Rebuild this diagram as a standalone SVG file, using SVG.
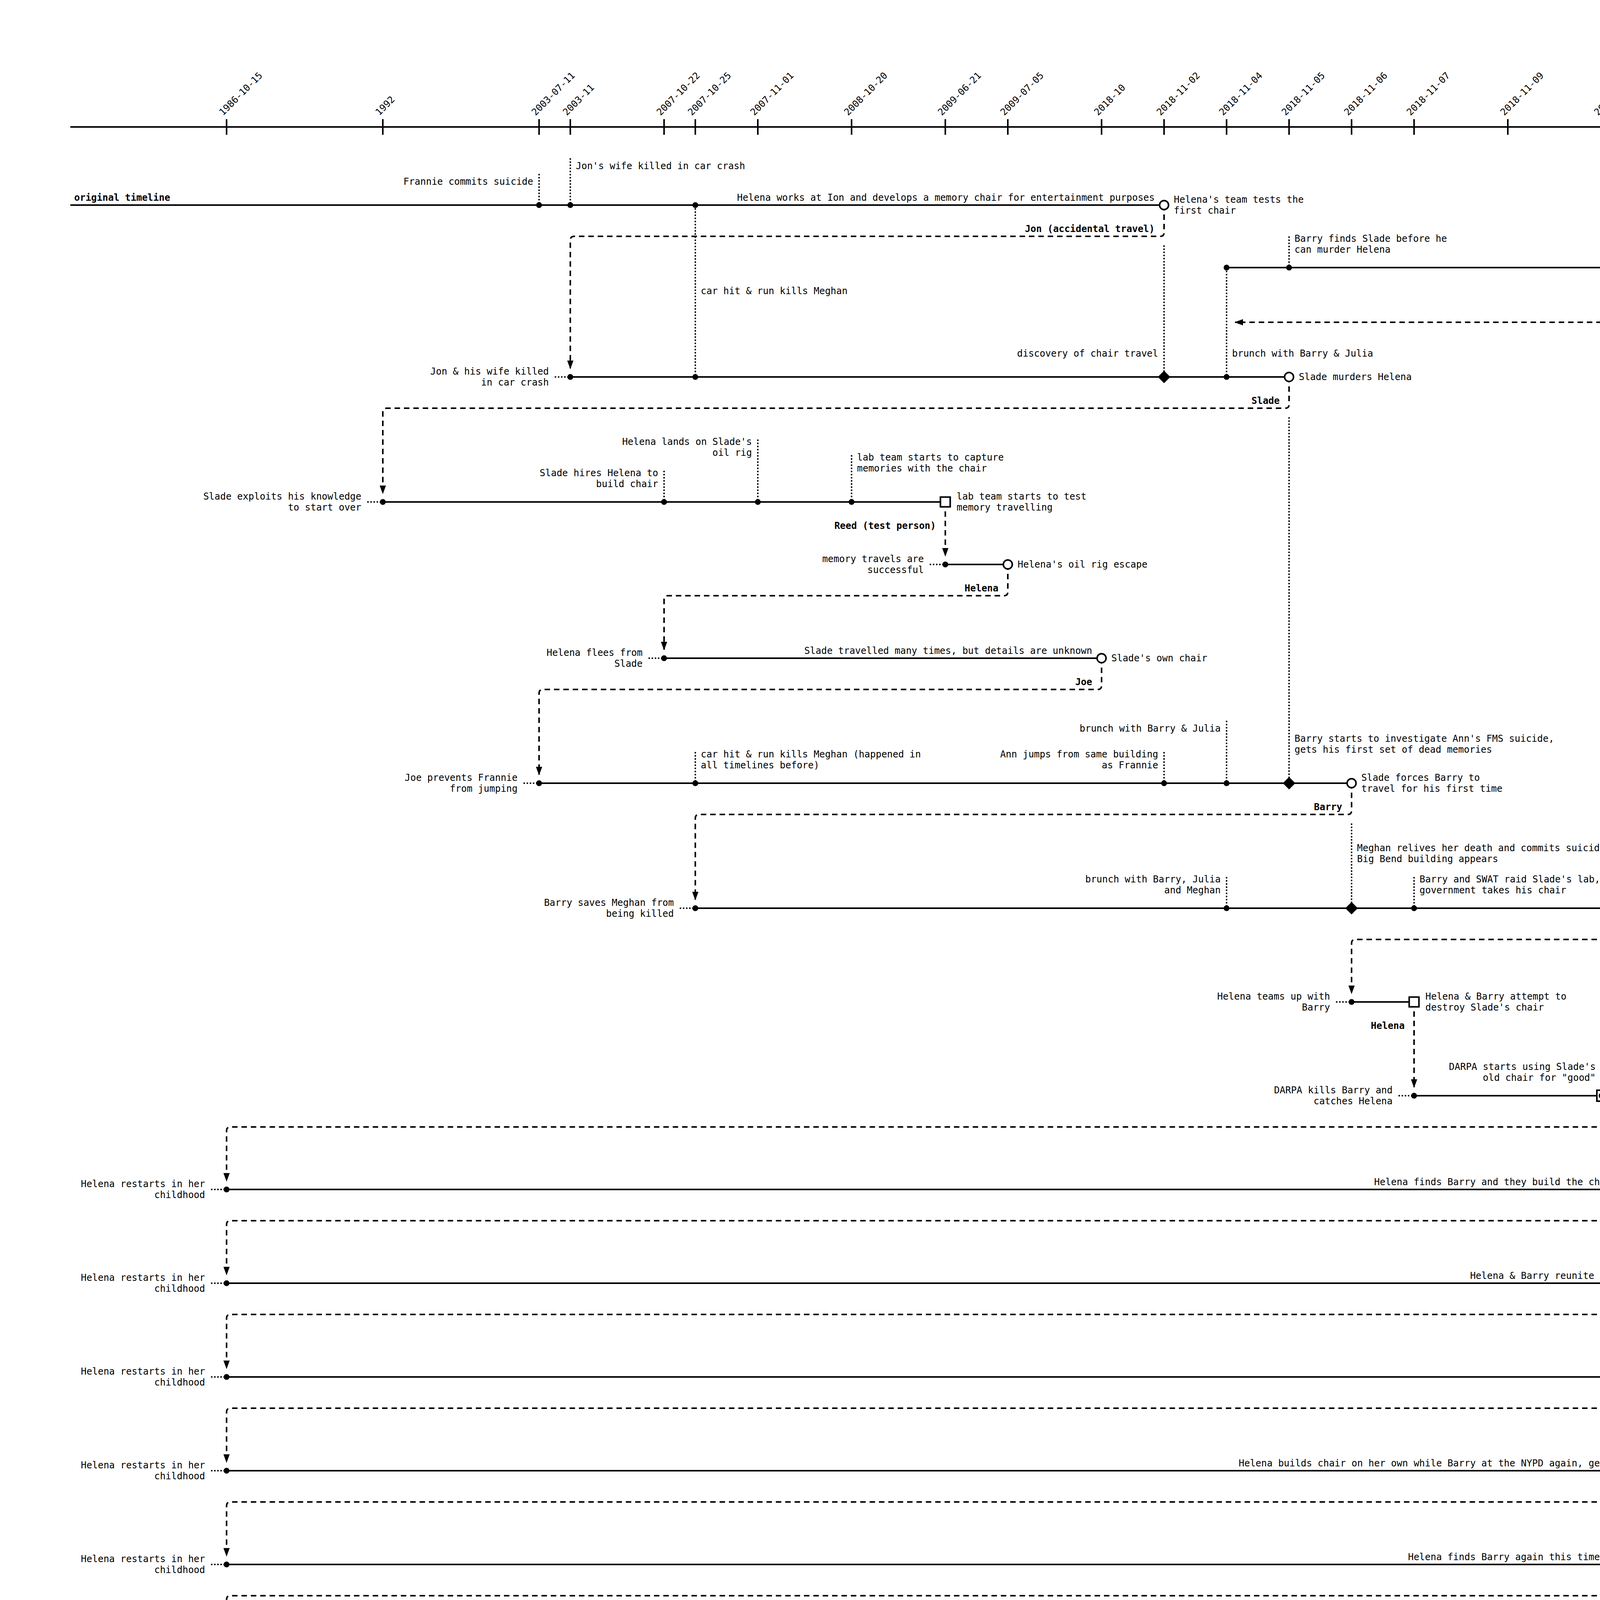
<svg xmlns="http://www.w3.org/2000/svg" width="5824" height="4928" viewBox="0 0 5824 4928">
<defs>
<style>
text{font-family:"DejaVu Sans Mono","Liberation Mono",monospace;font-size:24px;fill:#000}
.b{font-weight:bold}
.e{text-anchor:end}
.m{text-anchor:middle}
.tl{stroke:#000;stroke-width:4;fill:none}
.ev{stroke:#000;stroke-width:3.5;stroke-dasharray:4 4;fill:none}
.tr{stroke:#000;stroke-width:4;stroke-dasharray:14 10;fill:none}
.tick{stroke:#000;stroke-width:4}
.dot{fill:#000}
.ch{fill:#fff;stroke:#000;stroke-width:4}
.dm{fill:#000}
</style>
<marker id="arr" markerUnits="userSpaceOnUse" markerWidth="22" markerHeight="16" refX="20" refY="8" orient="auto">
<path d="M0,0 L22,8 L0,16 z" fill="#000"/>
</marker>
</defs>
<rect width="5824" height="4928" fill="#fff"/>

<g id="axis">
<line class="tl" x1="180" y1="325" x2="5702" y2="325" marker-end="url(#arr)"/>
<g class="tick">
<line x1="580" y1="305" x2="580" y2="345"/><line x1="980" y1="305" x2="980" y2="345"/><line x1="1380" y1="305" x2="1380" y2="345"/><line x1="1460" y1="305" x2="1460" y2="345"/><line x1="1700" y1="305" x2="1700" y2="345"/><line x1="1780" y1="305" x2="1780" y2="345"/><line x1="1940" y1="305" x2="1940" y2="345"/><line x1="2180" y1="305" x2="2180" y2="345"/><line x1="2420" y1="305" x2="2420" y2="345"/><line x1="2580" y1="305" x2="2580" y2="345"/><line x1="2820" y1="305" x2="2820" y2="345"/><line x1="2980" y1="305" x2="2980" y2="345"/><line x1="3140" y1="305" x2="3140" y2="345"/><line x1="3300" y1="305" x2="3300" y2="345"/><line x1="3460" y1="305" x2="3460" y2="345"/><line x1="3620" y1="305" x2="3620" y2="345"/><line x1="3860" y1="305" x2="3860" y2="345"/><line x1="4100" y1="305" x2="4100" y2="345"/><line x1="4340" y1="305" x2="4340" y2="345"/><line x1="4580" y1="305" x2="4580" y2="345"/><line x1="4660" y1="305" x2="4660" y2="345"/><line x1="4900" y1="305" x2="4900" y2="345"/>
</g>
<text x="571" y="297" transform="rotate(-45 571 297)">1986-10-15</text>
<text x="971" y="297" transform="rotate(-45 971 297)">1992</text>
<text x="1371" y="297" transform="rotate(-45 1371 297)">2003-07-11</text>
<text x="1451" y="297" transform="rotate(-45 1451 297)">2003-11</text>
<text x="1691" y="297" transform="rotate(-45 1691 297)">2007-10-22</text>
<text x="1771" y="297" transform="rotate(-45 1771 297)">2007-10-25</text>
<text x="1931" y="297" transform="rotate(-45 1931 297)">2007-11-01</text>
<text x="2171" y="297" transform="rotate(-45 2171 297)">2008-10-20</text>
<text x="2411" y="297" transform="rotate(-45 2411 297)">2009-06-21</text>
<text x="2571" y="297" transform="rotate(-45 2571 297)">2009-07-05</text>
<text x="2811" y="297" transform="rotate(-45 2811 297)">2018-10</text>
<text x="2971" y="297" transform="rotate(-45 2971 297)">2018-11-02</text>
<text x="3131" y="297" transform="rotate(-45 3131 297)">2018-11-04</text>
<text x="3291" y="297" transform="rotate(-45 3291 297)">2018-11-05</text>
<text x="3451" y="297" transform="rotate(-45 3451 297)">2018-11-06</text>
<text x="3611" y="297" transform="rotate(-45 3611 297)">2018-11-07</text>
<text x="3851" y="297" transform="rotate(-45 3851 297)">2018-11-09</text>
<text x="4091" y="297" transform="rotate(-45 4091 297)">2018-11-17</text>
<text x="4331" y="297" transform="rotate(-45 4331 297)">2019-02-14</text>
<text x="4571" y="297" transform="rotate(-45 4571 297)">2019-03</text>
<text x="4651" y="297" transform="rotate(-45 4651 297)">2019-03-22</text>
<text x="4891" y="297" transform="rotate(-45 4891 297)">2019-04-16</text>
</g>

<g id="connectors">
<path class="tr" d="M2980,525 V595 Q2980,605 2970,605 H1470 Q1460,605 1460,615 V943" marker-end="url(#arr)"/>
<path class="tr" d="M3300,965 V1035 Q3300,1045 3290,1045 H990 Q980,1045 980,1055 V1263" marker-end="url(#arr)"/>
<path class="tr" d="M2420,1285 V1423" marker-end="url(#arr)"/>
<path class="tr" d="M2580,1445 V1515 Q2580,1525 2570,1525 H1710 Q1700,1525 1700,1535 V1663" marker-end="url(#arr)"/>
<path class="tr" d="M2820,1685 V1755 Q2820,1765 2810,1765 H1390 Q1380,1765 1380,1775 V1983" marker-end="url(#arr)"/>
<path class="tr" d="M3460,2005 V2075 Q3460,2085 3450,2085 H1790 Q1780,2085 1780,2095 V2303" marker-end="url(#arr)"/>
<path class="tr" d="M4900,2325 V2395 Q4900,2405 4890,2405 H3470 Q3460,2405 3460,2415 V2543" marker-end="url(#arr)"/>
<path class="tr" d="M3620,2565 V2783" marker-end="url(#arr)"/>
<path class="tr" d="M4900,2805 V2875 Q4900,2885 4890,2885 H590 Q580,2885 580,2895 V3023" marker-end="url(#arr)"/>
<path class="tr" d="M4900,3045 V3115 Q4900,3125 4890,3125 H590 Q580,3125 580,3135 V3263" marker-end="url(#arr)"/>
<path class="tr" d="M4900,3285 V3355 Q4900,3365 4890,3365 H590 Q580,3365 580,3375 V3503" marker-end="url(#arr)"/>
<path class="tr" d="M4900,3525 V3595 Q4900,3605 4890,3605 H590 Q580,3605 580,3615 V3743" marker-end="url(#arr)"/>
<path class="tr" d="M4900,3765 V3835 Q4900,3845 4890,3845 H590 Q580,3845 580,3855 V3983" marker-end="url(#arr)"/>
<path class="tr" d="M4900,4005 V4075 Q4900,4085 4890,4085 H590 Q580,4085 580,4095 V4223" marker-end="url(#arr)"/>
<path class="tr" d="M4900,4245 V4315 Q4900,4325 4890,4325 H590 Q580,4325 580,4335 V4463" marker-end="url(#arr)"/>
<path class="tr" d="M4340,4485 V4703" marker-end="url(#arr)"/>
<path class="tr" d="M4900,4725 V4795 Q4900,4805 4910,4805 H5610 Q5620,4805 5620,4795 V835 Q5620,825 5610,825 H3162" marker-end="url(#arr)"/>
<g class="b e">
<text x="2956" y="594">Jon (accidental travel)</text>
<text x="3276" y="1034">Slade</text>
<text x="2396" y="1354">Reed (test person)</text>
<text x="2556" y="1514">Helena</text>
<text x="2796" y="1754">Joe</text>
<text x="3436" y="2074">Barry</text>
<text x="4876" y="2394">Helena</text>
<text x="3596" y="2634">Helena</text>
<text x="4876" y="2874">Helena</text>
<text x="4876" y="3114">Helena</text>
<text x="4876" y="3354">Helena</text>
<text x="4876" y="3594">Helena</text>
<text x="4876" y="3834">Helena</text>
<text x="4876" y="4074">Helena</text>
<text x="4876" y="4314">Helena</text>
<text x="4316" y="4554">Barry</text>
<text x="4876" y="4794">Barry</text>
</g>
</g>

<g id="original-timeline">
<line class="tl" x1="180" y1="525" x2="2980" y2="525"/>
<line class="ev" x1="1380" y1="445" x2="1380" y2="525"/>
<line class="ev" x1="1460" y1="405" x2="1460" y2="525"/>
<line class="ev" x1="1780" y1="525" x2="1780" y2="965"/>
<circle class="dot" cx="1380" cy="525" r="7.5"/>
<circle class="dot" cx="1460" cy="525" r="7.5"/>
<circle class="dot" cx="1780" cy="525" r="7.5"/>
<circle class="ch" cx="2980" cy="525" r="11.5"/>
<text class="b" x="190" y="514">original timeline</text>
<text class="e" x="1365" y="473">Frannie commits suicide</text>
<text x="1474" y="433">Jon's wife killed in car crash</text>
<text x="1794" y="753">car hit &amp; run kills Meghan</text>
<text class="e" x="2956" y="514">Helena works at Ion and develops a memory chair for entertainment purposes</text>
<text x="3005" y="519">Helena's team tests the</text>
<text x="3005" y="547">first chair</text>
</g>

<g id="final-timeline">
<line class="tl" x1="3140" y1="685" x2="5702" y2="685" marker-end="url(#arr)"/>
<line class="ev" x1="3300" y1="605" x2="3300" y2="685"/>
<circle class="dot" cx="3140" cy="685" r="7.5"/>
<circle class="dot" cx="3300" cy="685" r="7.5"/>
<text x="3314" y="619">Barry finds Slade before he</text>
<text x="3314" y="647">can murder Helena</text>
<text class="b e" x="5666" y="673">final timeline</text>
</g>

<g id="jon-timeline">
<line class="ev" x1="1420" y1="965" x2="1460" y2="965"/>
<line class="tl" x1="1460" y1="965" x2="3300" y2="965"/>
<line class="ev" x1="2980" y1="628" x2="2980" y2="965"/>
<line class="ev" x1="3140" y1="685" x2="3140" y2="965"/>
<circle class="dot" cx="1460" cy="965" r="7.5"/>
<circle class="dot" cx="1780" cy="965" r="7.5"/>
<polygon class="dm" points="2980,949 2996,965 2980,981 2964,965"/>
<circle class="dot" cx="3140" cy="965" r="7.5"/>
<circle class="ch" cx="3300" cy="965" r="11.5"/>
<text class="e" x="1405" y="959">Jon &amp; his wife killed</text>
<text class="e" x="1405" y="987">in car crash</text>
<text class="e" x="2965" y="913">discovery of chair travel</text>
<text x="3154" y="913">brunch with Barry &amp; Julia</text>
<text x="3325" y="973">Slade murders Helena</text>
</g>

<g id="slade-timeline">
<line class="ev" x1="940" y1="1285" x2="980" y2="1285"/>
<line class="tl" x1="980" y1="1285" x2="2420" y2="1285"/>
<line class="ev" x1="1700" y1="1205" x2="1700" y2="1285"/>
<line class="ev" x1="1940" y1="1125" x2="1940" y2="1285"/>
<line class="ev" x1="2180" y1="1165" x2="2180" y2="1285"/>
<circle class="dot" cx="980" cy="1285" r="7.5"/>
<circle class="dot" cx="1700" cy="1285" r="7.5"/>
<circle class="dot" cx="1940" cy="1285" r="7.5"/>
<circle class="dot" cx="2180" cy="1285" r="7.5"/>
<rect class="ch" x="2407.5" y="1272.5" width="25" height="25"/>
<text class="e" x="925" y="1279">Slade exploits his knowledge</text>
<text class="e" x="925" y="1307">to start over</text>
<text class="e" x="1685" y="1219">Slade hires Helena to</text>
<text class="e" x="1685" y="1247">build chair</text>
<text class="e" x="1925" y="1139">Helena lands on Slade's</text>
<text class="e" x="1925" y="1167">oil rig</text>
<text x="2194" y="1179">lab team starts to capture</text>
<text x="2194" y="1207">memories with the chair</text>
<text x="2449" y="1279">lab team starts to test</text>
<text x="2449" y="1307">memory travelling</text>
</g>

<g id="reed-timeline">
<line class="ev" x1="2380" y1="1445" x2="2420" y2="1445"/>
<line class="tl" x1="2420" y1="1445" x2="2580" y2="1445"/>
<circle class="dot" cx="2420" cy="1445" r="7.5"/>
<circle class="ch" cx="2580" cy="1445" r="11.5"/>
<text class="e" x="2365" y="1439">memory travels are</text>
<text class="e" x="2365" y="1467">successful</text>
<text x="2605" y="1453">Helena's oil rig escape</text>
</g>

<g id="helena-flees-timeline">
<line class="ev" x1="1660" y1="1685" x2="1700" y2="1685"/>
<line class="tl" x1="1700" y1="1685" x2="2820" y2="1685"/>
<circle class="dot" cx="1700" cy="1685" r="7.5"/>
<circle class="ch" cx="2820" cy="1685" r="11.5"/>
<text class="e" x="1645" y="1679">Helena flees from</text>
<text class="e" x="1645" y="1707">Slade</text>
<text class="e" x="2796" y="1674">Slade travelled many times, but details are unknown</text>
<text x="2845" y="1693">Slade's own chair</text>
</g>

<g id="joe-timeline">
<line class="ev" x1="1340" y1="2005" x2="1380" y2="2005"/>
<line class="tl" x1="1380" y1="2005" x2="3460" y2="2005"/>
<line class="ev" x1="1780" y1="1925" x2="1780" y2="2005"/>
<line class="ev" x1="2980" y1="1925" x2="2980" y2="2005"/>
<line class="ev" x1="3140" y1="1845" x2="3140" y2="2005"/>
<line class="ev" x1="3300" y1="1068" x2="3300" y2="2005"/>
<circle class="dot" cx="1380" cy="2005" r="7.5"/>
<circle class="dot" cx="1780" cy="2005" r="7.5"/>
<circle class="dot" cx="2980" cy="2005" r="7.5"/>
<circle class="dot" cx="3140" cy="2005" r="7.5"/>
<polygon class="dm" points="3300,1989 3316,2005 3300,2021 3284,2005"/>
<circle class="ch" cx="3460" cy="2005" r="11.5"/>
<text class="e" x="1325" y="1999">Joe prevents Frannie</text>
<text class="e" x="1325" y="2027">from jumping</text>
<text x="1794" y="1939">car hit &amp; run kills Meghan (happened in</text>
<text x="1794" y="1967">all timelines before)</text>
<text class="e" x="2965" y="1939">Ann jumps from same building</text>
<text class="e" x="2965" y="1967">as Frannie</text>
<text class="e" x="3125" y="1873">brunch with Barry &amp; Julia</text>
<text x="3314" y="1899">Barry starts to investigate Ann's FMS suicide,</text>
<text x="3314" y="1927">gets his first set of dead memories</text>
<text x="3485" y="1999">Slade forces Barry to</text>
<text x="3485" y="2027">travel for his first time</text>
</g>

<g id="barry-timeline">
<line class="ev" x1="1740" y1="2325" x2="1780" y2="2325"/>
<line class="tl" x1="1780" y1="2325" x2="4900" y2="2325"/>
<line class="ev" x1="3140" y1="2245" x2="3140" y2="2325"/>
<line class="ev" x1="3460" y1="2108" x2="3460" y2="2325"/>
<line class="ev" x1="3620" y1="2245" x2="3620" y2="2325"/>
<line class="ev" x1="4580" y1="2245" x2="4580" y2="2325"/>
<circle class="dot" cx="1780" cy="2325" r="7.5"/>
<circle class="dot" cx="3140" cy="2325" r="7.5"/>
<polygon class="dm" points="3460,2309 3476,2325 3460,2341 3444,2325"/>
<circle class="dot" cx="3620" cy="2325" r="7.5"/>
<circle class="dot" cx="4580" cy="2325" r="7.5"/>
<circle class="ch" cx="4900" cy="2325" r="11.5"/>
<text class="e" x="1725" y="2319">Barry saves Meghan from</text>
<text class="e" x="1725" y="2347">being killed</text>
<text class="e" x="3125" y="2259">brunch with Barry, Julia</text>
<text class="e" x="3125" y="2287">and Meghan</text>
<text x="3474" y="2179">Meghan relives her death and commits suicide,</text>
<text x="3474" y="2207">Big Bend building appears</text>
<text x="3634" y="2259">Barry and SWAT raid Slade's lab,</text>
<text x="3634" y="2287">government takes his chair</text>
<text class="e" x="4565" y="2259">Helena finds Barry for</text>
<text class="e" x="4565" y="2287">the first time</text>
<text x="4925" y="2333">Helena's new chair</text>
</g>

<g id="helena-teams-timeline">
<line class="ev" x1="3420" y1="2565" x2="3460" y2="2565"/>
<line class="tl" x1="3460" y1="2565" x2="3620" y2="2565"/>
<circle class="dot" cx="3460" cy="2565" r="7.5"/>
<rect class="ch" x="3607.5" y="2552.5" width="25" height="25"/>
<text class="e" x="3405" y="2559">Helena teams up with</text>
<text class="e" x="3405" y="2587">Barry</text>
<text x="3649" y="2559">Helena &amp; Barry attempt to</text>
<text x="3649" y="2587">destroy Slade's chair</text>
</g>

<g id="darpa-timeline">
<line class="ev" x1="3580" y1="2805" x2="3620" y2="2805"/>
<line class="tl" x1="3620" y1="2805" x2="4088" y2="2805"/>
<line class="tl" x1="4858" y1="2805" x2="4900" y2="2805"/>
<rect class="ch" x="4088" y="2791" width="770" height="28"/>
<line class="ev" x1="4100" y1="2725" x2="4100" y2="2805"/>
<line class="ev" x1="4580" y1="2645" x2="4580" y2="2791"/>
<circle class="dot" cx="3620" cy="2805" r="7.5"/>
<circle class="dot" cx="4100" cy="2805" r="7.5"/>
<circle class="dot" cx="4580" cy="2805" r="7.5"/>
<rect class="ch" x="4887.5" y="2792.5" width="25" height="25"/>
<text class="e" x="3565" y="2799">DARPA kills Barry and</text>
<text class="e" x="3565" y="2827">catches Helena</text>
<text class="e" x="4085" y="2739">DARPA starts using Slade's</text>
<text class="e" x="4085" y="2767">old chair for "good"</text>
<text class="e" x="4565" y="2659">government finds out and gives</text>
<text class="e" x="4565" y="2687">DARPA military missions</text>
<text x="4929" y="2785">blueprints and software of chair found on</text>
<text x="4929" y="2813">WikiLeaks, results in repeating hellfire</text>
<text x="4929" y="2841">in New York City</text>
</g>

<g id="restart-1">
<line class="ev" x1="540" y1="3045" x2="580" y2="3045"/>
<line class="tl" x1="580" y1="3045" x2="4900" y2="3045"/>
<circle class="dot" cx="580" cy="3045" r="7.5"/>
<circle class="ch" cx="4900" cy="3045" r="11.5"/>
<text class="e" x="525" y="3039">Helena restarts in her</text>
<text class="e" x="525" y="3067">childhood</text>
<text class="e" x="4876" y="3034">Helena finds Barry and they build the chair again but fail to find a way to stop dead memories</text>
<text x="4925" y="3053">world goes crazy again</text>
</g>

<g id="restart-2">
<line class="ev" x1="540" y1="3285" x2="580" y2="3285"/>
<line class="tl" x1="580" y1="3285" x2="4900" y2="3285"/>
<circle class="dot" cx="580" cy="3285" r="7.5"/>
<circle class="ch" cx="4900" cy="3285" r="11.5"/>
<text class="e" x="525" y="3279">Helena restarts in her</text>
<text class="e" x="525" y="3307">childhood</text>
<text class="e" x="4876" y="3274">Helena &amp; Barry reunite and research on the physics of memories but fail again</text>
<text x="4925" y="3279">Helena &amp; Barry barely survive missile</text>
<text x="4925" y="3307">attack long enough to use the chair</text>
</g>

<g id="restart-3">
<line class="ev" x1="540" y1="3525" x2="580" y2="3525"/>
<line class="tl" x1="580" y1="3525" x2="4900" y2="3525"/>
<circle class="dot" cx="580" cy="3525" r="7.5"/>
<circle class="ch" cx="4900" cy="3525" r="11.5"/>
<text class="e" x="525" y="3519">Helena restarts in her</text>
<text class="e" x="525" y="3547">childhood</text>
<text class="e" x="4876" y="3514">more physics research after reunion but another failue</text>
<text x="4925" y="3519">bombings again but Helena &amp; Barry</text>
<text x="4925" y="3547">are fairly safe</text>
</g>

<g id="restart-4">
<line class="ev" x1="540" y1="3765" x2="580" y2="3765"/>
<line class="tl" x1="580" y1="3765" x2="4900" y2="3765"/>
<circle class="dot" cx="580" cy="3765" r="7.5"/>
<circle class="ch" cx="4900" cy="3765" r="11.5"/>
<text class="e" x="525" y="3759">Helena restarts in her</text>
<text class="e" x="525" y="3787">childhood</text>
<text class="e" x="4876" y="3754">Helena builds chair on her own while Barry at the NYPD again, gets information from Jee-Woon shortly before world ends</text>
<text x="4925" y="3773">atomic bomb destroys New York City</text>
</g>

<g id="restart-5">
<line class="ev" x1="540" y1="4005" x2="580" y2="4005"/>
<line class="tl" x1="580" y1="4005" x2="4900" y2="4005"/>
<circle class="dot" cx="580" cy="4005" r="7.5"/>
<circle class="ch" cx="4900" cy="4005" r="11.5"/>
<text class="e" x="525" y="3999">Helena restarts in her</text>
<text class="e" x="525" y="4027">childhood</text>
<text class="e" x="4876" y="3994">Helena finds Barry again this time, he gives her Jee-Woon info when his memories come in</text>
<text x="4925" y="4013">global atomic bombings</text>
</g>

<g id="restart-6">
<line class="ev" x1="540" y1="4245" x2="580" y2="4245"/>
<line class="tl" x1="580" y1="4245" x2="4900" y2="4245"/>
<line class="ev" x1="4900" y1="4348" x2="4900" y2="4685"/>
<circle class="dot" cx="580" cy="4245" r="7.5"/>
<circle class="ch" cx="4900" cy="4245" r="11.5"/>
<polygon class="dm" points="4900,4669 4916,4685 4900,4701 4884,4685"/>
<text class="e" x="525" y="4239">Helena restarts in her</text>
<text class="e" x="525" y="4267">childhood</text>
<text class="e" x="4876" y="4234">Helena &amp; Barry reunite and kidnap Slade, when Helena is already off the chair, he tells Barry how to overwrite dead memories</text>
<text x="4925" y="4253">world ends with nuclear war</text>
<text x="4914" y="4605">briefly before Barry wants to commit</text>
<text x="4914" y="4633">suicide, his memories about how to reset</text>
<text x="4914" y="4661">timelines come back</text>
</g>

<g id="restart-7">
<line class="ev" x1="540" y1="4485" x2="580" y2="4485"/>
<line class="tl" x1="580" y1="4485" x2="4340" y2="4485"/>
<circle class="dot" cx="580" cy="4485" r="7.5"/>
<rect class="ch" x="4327.5" y="4472.5" width="25" height="25"/>
<text class="e" x="525" y="4479">Helena restarts in her</text>
<text class="e" x="525" y="4507">childhood</text>
<text class="e" x="4316" y="4474">Helena &amp; Barry research in the Antactica, Helena dies early because of her many travels</text>
<text x="4369" y="4479">Barry travels back a few weeks to</text>
<text x="4369" y="4507">stay with Helena for longer</text>
</g>

<g id="barry-buries-timeline">
<line class="ev" x1="4300" y1="4725" x2="4340" y2="4725"/>
<line class="tl" x1="4340" y1="4725" x2="4900" y2="4725"/>
<circle class="dot" cx="4340" cy="4725" r="7.5"/>
<circle class="ch" cx="4900" cy="4725" r="11.5"/>
<text class="e" x="4285" y="4719">Barry buries Helena</text>
<text class="e" x="4285" y="4747">in the ice</text>
<text x="4925" y="4719">Barry travels to a memory before</text>
<text x="4925" y="4747">Slade would take over</text>
</g>

<g id="legend">
<rect x="4200" y="1245" width="640" height="480" fill="#fff" stroke="#000" stroke-width="4"/>
<text class="b m" x="4520" y="1312">L E G E N D</text>
<line class="tl" x1="4261" y1="1365" x2="4321" y2="1365"/>
<text x="4334" y="1373">timeline</text>
<line class="ev" x1="4261" y1="1425" x2="4321" y2="1425"/>
<circle class="dot" cx="4261" cy="1425" r="7.5"/>
<text x="4334" y="1433">important event</text>
<line class="ev" x1="4261" y1="1485" x2="4321" y2="1485"/>
<polygon class="dm" points="4261,1469 4277,1485 4261,1501 4245,1485"/>
<text x="4334" y="1493">stream of dead memories</text>
<line class="tl" x1="4261" y1="1545" x2="4321" y2="1545"/>
<circle class="ch" cx="4261" cy="1545" r="11.5"/>
<text x="4334" y="1553">memory chair usage</text>
<line class="tl" x1="4261" y1="1605" x2="4321" y2="1605"/>
<rect class="ch" x="4249.5" y="1592.5" width="25" height="25"/>
<text x="4334" y="1600">multiple chair usages, only last</text>
<text x="4334" y="1627">travel is shown as a line</text>
<line class="tr" x1="4261" y1="1665" x2="4321" y2="1665" style="stroke-dasharray:12 12"/>
<text x="4334" y="1673">person's chair travel</text>
</g>
</svg>
